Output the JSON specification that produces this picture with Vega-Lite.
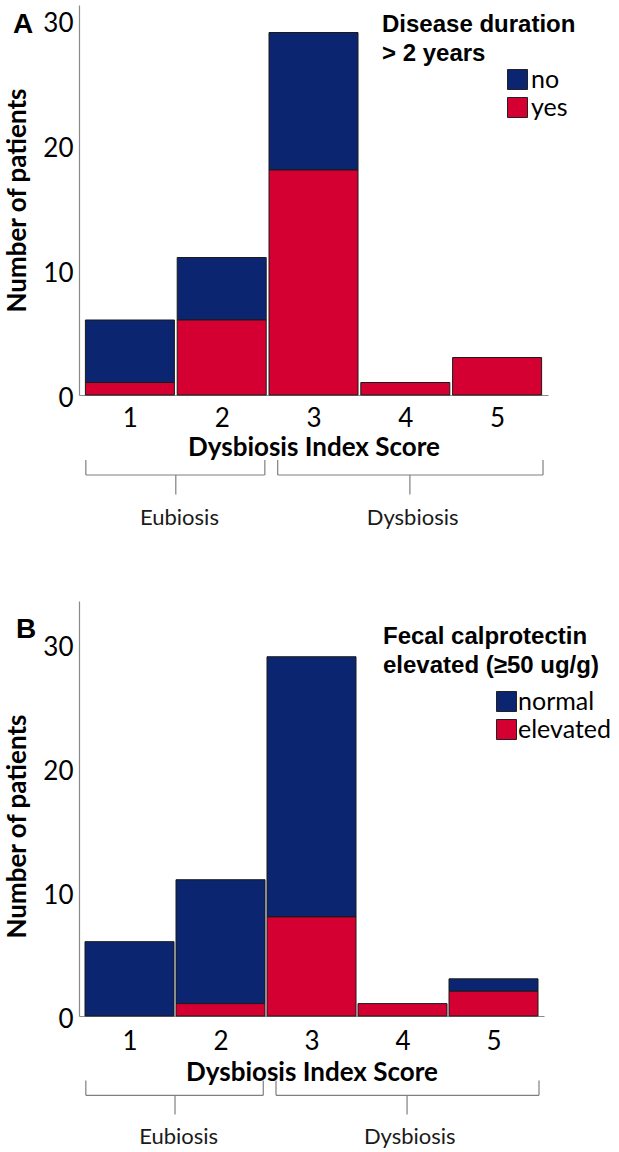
{
  "$schema": "https://vega.github.io/schema/vega-lite/v6.json",
  "background": "white",
  "padding": {"left": 4, "top": 5, "right": 0, "bottom": 0},
  "spacing": 72,
  "resolve": {"scale": {"color": "independent"}, "legend": {"color": "independent"}},
  "datasets": {
    "durA": [
      {"score": 1, "group": "no", "n": 5},
      {"score": 1, "group": "yes", "n": 1},
      {"score": 2, "group": "no", "n": 5},
      {"score": 2, "group": "yes", "n": 6},
      {"score": 3, "group": "no", "n": 11},
      {"score": 3, "group": "yes", "n": 18},
      {"score": 4, "group": "yes", "n": 1},
      {"score": 5, "group": "yes", "n": 3}
    ],
    "calB": [
      {"score": 1, "group": "normal", "n": 6},
      {"score": 2, "group": "normal", "n": 10},
      {"score": 2, "group": "elevated", "n": 1},
      {"score": 3, "group": "normal", "n": 21},
      {"score": 3, "group": "elevated", "n": 8},
      {"score": 4, "group": "elevated", "n": 1},
      {"score": 5, "group": "normal", "n": 1},
      {"score": 5, "group": "elevated", "n": 2}
    ],
    "brackets": [
      {"x": 0.52, "x2": 0.52, "y": -5.2, "y2": -6.4},
      {"x": 0.52, "x2": 2.47, "y": -6.4, "y2": -6.4},
      {"x": 2.47, "x2": 2.47, "y": -5.2, "y2": -6.4},
      {"x": 1.5, "x2": 1.5, "y": -6.4, "y2": -7.95},
      {"x": 2.61, "x2": 2.61, "y": -5.2, "y2": -6.4},
      {"x": 2.61, "x2": 5.5, "y": -6.4, "y2": -6.4},
      {"x": 5.5, "x2": 5.5, "y": -5.2, "y2": -6.4},
      {"x": 4.05, "x2": 4.05, "y": -6.4, "y2": -7.95}
    ],
    "bracketLabels": [
      {"label": "Eubiosis", "x": 1.54, "y": -9.8},
      {"label": "Dysbiosis", "x": 4.08, "y": -9.8}
    ]
  },
  "vconcat": [
    {
      "width": 469,
      "height": 390,
      "title": {"text": "A", "anchor": "start", "frame": "group", "orient": "top", "offset": -34, "dx": -66, "font": "Liberation Sans", "fontSize": 28, "fontWeight": "bold", "color": "black"},
      "layer": [
        {
          "data": {"name": "durA"},
          "mark": {"type": "bar", "width": 89, "orient": "vertical", "stroke": "#1a1a1a", "strokeWidth": 1},
          "encoding": {
            "x": {"field": "score", "type": "quantitative", "scale": {"domain": [0.5, 5.5], "nice": false, "zero": false},
              "axis": {"title": "Dysbiosis Index Score", "values": [1, 2, 3, 4, 5], "format": "d"}},
            "y": {"field": "n", "type": "quantitative", "stack": "zero", "scale": {"domain": [0, 31.2], "nice": false},
              "axis": {"title": "Number of patients", "values": [0, 10, 20, 30]}},
            "color": {"field": "group", "type": "nominal",
              "scale": {"domain": ["no", "yes"], "range": ["#0b2570", "#d50032"]},
              "legend": {"title": ["Disease duration", "> 2 years"], "orient": "none", "legendX": 303, "legendY": 8,
                "symbolOffset": 123, "labelOffset": 1, "titlePadding": 1}},
            "order": {"field": "group", "sort": "descending"}
          }
        },
        {
          "data": {"name": "brackets"},
          "mark": {"type": "rule", "color": "#7f7f7f", "strokeWidth": 1.2},
          "encoding": {
            "x": {"field": "x", "type": "quantitative"},
            "x2": {"field": "x2"},
            "y": {"field": "y", "type": "quantitative"},
            "y2": {"field": "y2"}
          }
        },
        {
          "data": {"name": "bracketLabels"},
          "mark": {"type": "text", "font": "Lato", "fontSize": 22, "align": "center", "baseline": "middle", "color": "#1a1a1a"},
          "encoding": {
            "x": {"field": "x", "type": "quantitative"},
            "y": {"field": "y", "type": "quantitative"},
            "text": {"field": "label"}
          }
        }
      ]
    },
    {
      "width": 465,
      "height": 415,
      "title": {"text": "B", "anchor": "start", "frame": "group", "orient": "top", "offset": -43, "dx": -63, "font": "Liberation Sans", "fontSize": 28, "fontWeight": "bold", "color": "black"},
      "layer": [
        {
          "data": {"name": "calB"},
          "mark": {"type": "bar", "width": 89, "orient": "vertical", "stroke": "#1a1a1a", "strokeWidth": 1},
          "encoding": {
            "x": {"field": "score", "type": "quantitative", "scale": {"domain": [0.5, 5.5], "nice": false, "zero": false},
              "axis": {"title": "Dysbiosis Index Score", "values": [1, 2, 3, 4, 5], "format": "d", "labelPadding": 12, "titlePadding": 5}},
            "y": {"field": "n", "type": "quantitative", "stack": "zero", "scale": {"domain": [0, 33.5], "nice": false},
              "axis": {"title": "Number of patients", "values": [0, 10, 20, 30], "titleY": 225}},
            "color": {"field": "group", "type": "nominal",
              "scale": {"domain": ["normal", "elevated"], "range": ["#0b2570", "#d50032"]},
              "legend": {"title": ["Fecal calprotectin", "elevated (≥50 ug/g)"], "orient": "none", "legendX": 304, "legendY": 24,
                "symbolOffset": 111, "labelOffset": -1, "titlePadding": 11}},
            "order": {"field": "group", "sort": "ascending"}
          }
        },
        {
          "data": {"name": "brackets"},
          "mark": {"type": "rule", "color": "#7f7f7f", "strokeWidth": 1.2},
          "encoding": {
            "x": {"field": "x", "type": "quantitative"},
            "x2": {"field": "x2"},
            "y": {"field": "y", "type": "quantitative"},
            "y2": {"field": "y2"}
          }
        },
        {
          "data": {"name": "bracketLabels"},
          "mark": {"type": "text", "font": "Lato", "fontSize": 22, "align": "center", "baseline": "middle", "color": "#1a1a1a"},
          "encoding": {
            "x": {"field": "x", "type": "quantitative"},
            "y": {"field": "y", "type": "quantitative"},
            "text": {"field": "label"}
          }
        }
      ]
    }
  ],
  "config": {
    "view": {"stroke": null},
    "axis": {
      "grid": false, "ticks": false, "tickSize": 0,
      "domainColor": "#8a8a8a", "domainWidth": 1.2,
      "labelFont": "Lato", "labelFontSize": 26, "labelColor": "black",
      "titleFont": "Lato", "titleFontSize": 26, "titleFontWeight": "bold", "titleColor": "black",
      "labelFlush": false, "labelOverlap": false
    },
    "axisX": {"labelPadding": 10, "titlePadding": 3},
    "axisY": {"labelPadding": 6, "titlePadding": 12, "labelOffset": 3},
    "legend": {
      "padding": 0,
      "titleFont": "Liberation Sans", "titleFontSize": 24, "titleFontWeight": "bold", "titleColor": "black",
      "titleLineHeight": 29, "titleLimit": 400,
      "labelFont": "Lato", "labelFontSize": 25, "labelColor": "black", "labelLimit": 300,
      "symbolType": "square", "symbolSize": 400, "symbolStrokeColor": "#222", "symbolStrokeWidth": 1, "symbolOpacity": 1,
      "rowPadding": 2
    }
  }
}
